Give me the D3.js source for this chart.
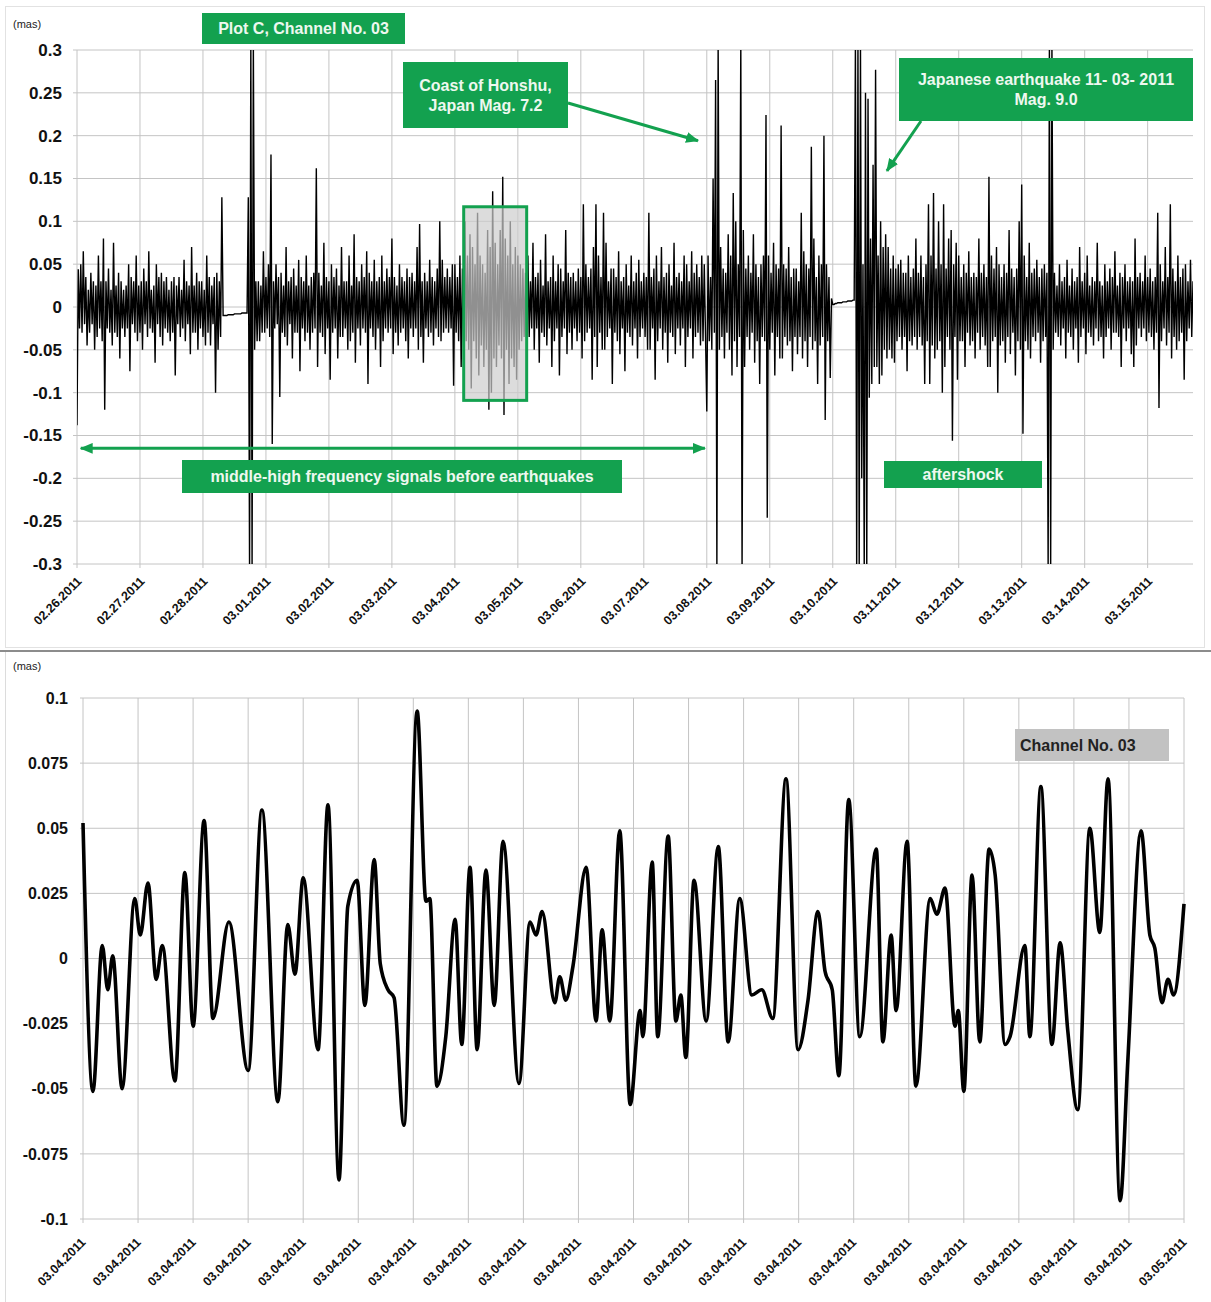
<!DOCTYPE html>
<html>
<head>
<meta charset="utf-8">
<script src="https://cdn.jsdelivr.net/npm/d3@7"></script>
<style>
body { margin: 0; background: #fff; }
svg { display: block; font-family: "Liberation Sans", Arial, sans-serif; }
</style>
</head>
<body>
<svg id="chart" width="1211" height="1302"></svg>
<script>
// 上の図: Plot C, Channel No. 03 (02.26 - 03.15.2011)
const topDates = ["02.26.2011", "02.27.2011", "02.28.2011", "03.01.2011", "03.02.2011", "03.03.2011",
    "03.04.2011", "03.05.2011", "03.06.2011", "03.07.2011", "03.08.2011", "03.09.2011",
    "03.10.2011", "03.11.2011", "03.12.2011", "03.13.2011", "03.14.2011", "03.15.2011"];
const topTicks = [0.3, 0.25, 0.2, 0.15, 0.1, 0.05, 0, -0.05, -0.1, -0.15, -0.2, -0.25, -0.3];
const topTickLabels = ["0.3", "0.25", "0.2", "0.15", "0.1", "0.05", "0", "-0.05", "-0.1", "-0.15", "-0.2", "-0.25", "-0.3"];
// 1サンプル = 0.02日
const topStep = 0.02;
const topValues = [
    // 02.26 - 02.28
    -.138, .044, -.025, .05, -.03, .065, -.02, .035, -.045, .02,
    -.03, .04, -.02, .03, -.05, .025, -.035, .06, -.025, .03,
    -.04, .08, -.12, .03, -.025, .045, -.03, .02, -.045, .075,
    -.03, .025, -.035, .04, -.06, .03, -.025, .02, -.035, .025,
    -.025, .05, -.075, .035, -.02, .03, -.03, .06, -.04, .025,
    -.03, .03, -.05, .045, -.02, .03, -.035, .065, -.025, .02,
    -.03, .025, -.065, .05, -.02, .035, -.035, .04, -.045, .03,
    -.025, .035, -.03, .02, -.04, .03, -.03, .035, -.08, .025,
    -.02, .035, -.035, .02, -.025, .055, -.04, .03, -.02, .025,
    -.055, .07, -.03, .025, -.03, .04, -.05, .03, -.025, .03,
    -.035, .02, -.045, .06, -.03, .035, -.045, .025, -.02, .035,
    -.1, .04, -.05, .03, -.035, .128,
    // 欠測
    -.01, -.01, -.01, -.01, -.009, -.009, -.009, -.009, -.009, -.008,
    -.008, -.008, -.008, -.008, -.008, -.007, -.007, -.007, -.007, -.007,
    .128, -.31, .31, -.31, .31, -.05, .03, -.04,
    // 03.01 - 03.04
    .03, -.04, .025, -.03, .065, -.03, .035, -.025, .05, -.035,
    .178, -.16, .03, -.025, .05, -.02, .035, -.105, .04, -.03,
    .025, -.035, .07, -.045, .03, -.02, .035, -.06, .045, -.03,
    .025, -.03, .055, -.075, .035, -.025, .03, -.04, .06, -.03,
    .025, -.05, .035, -.03, .04, -.025, .162, -.07, .04, -.03,
    .025, -.035, .075, -.055, .035, -.025, .03, -.085, .05, -.03,
    .035, -.025, .045, -.06, .025, -.035, .07, -.035, .03, -.025,
    .03, -.05, .06, -.04, .025, -.03, .085, -.065, .035, -.025,
    .03, -.045, .05, -.025, .035, -.03, .065, -.09, .04, -.025,
    .03, -.035, .055, -.05, .03, -.025, .035, -.07, .06, -.04,
    .03, -.025, .045, -.03, .035, -.025, .08, -.055, .035, -.03,
    .025, -.045, .05, -.03, .035, -.025, .03, -.04, .045, -.06,
    .035, -.025, .04, -.035, .03, -.025, .07, -.05, .097, -.035,
    .03, -.065, .04, -.025, .03, -.035, .055, -.03, .035, -.045,
    .03, -.025, .045, -.035, .1, -.04, .055, -.03, .035, -.025,
    .045, -.03, .035, -.025, .05, -.092, .05, -.03, .035, -.04,
    // 拡大部分 (03.04 - 03.05)
    .06, -.07, .045, -.05, .1, -.04, .06, -.05, .085, -.095,
    .07, -.04, .05, -.06, .11, -.08, .06, -.045, .05, -.07,
    .04, -.05, .09, -.12, .07, -.1, .135, -.06, .075, -.07,
    .05, -.045, .09, -.06, .152, -.126, .08, -.05, .06, -.09,
    .1, -.06, .05, -.07, .07, -.085, .06, -.05, .05, -.04,
    .045, -.035, .04, -.04,
    // 03.05 - 03.08
    .06, -.035, .03, -.025, .075, -.05, .035, -.025, .04, -.065,
    .055, -.03, .025, -.035, .085, -.045, .03, -.025, .035, -.07,
    .06, -.04, .03, -.025, .05, -.08, .045, -.035, .03, -.025,
    .09, -.055, .04, -.03, .035, -.05, .04, -.025, .03, -.04,
    .045, -.03, .035, -.06, .12, -.04, .05, -.03, .035, -.025,
    .045, -.085, .07, -.035, .12, -.07, .06, -.03, .035, -.05,
    .11, -.05, .075, -.035, .03, -.025, .045, -.09, .045, -.03,
    .035, -.04, .065, -.055, .03, -.025, .035, -.075, .05, -.03,
    .025, -.035, .06, -.045, .03, -.025, .04, -.06, .055, -.035,
    .03, -.025, .04, -.035, .035, -.05, .11, -.05, .035, -.025,
    .045, -.085, .06, -.04, .03, -.025, .07, -.05, .035, -.03,
    .04, -.065, .05, -.03, .025, -.035, .075, -.055, .035, -.025,
    .04, -.045, .03, -.025, .06, -.07, .05, -.035, .03, -.025,
    .065, -.06, .04, -.035, .05, -.03, .035, -.045, .06, -.04,
    .05, -.035,
    // 03.08 - 03.10 (Honshu M7.2)
    -.122, .06, -.04, .035, -.05, .15, -.03, .265, -.31, .31,
    -.05, .07, -.035, .045, -.06, .04, -.03, .085, -.05, .06,
    -.08, .133, -.04, .1, -.07, .05, -.035, .31, -.31, .09,
    -.07, .045, -.035, .06, -.05, .04, -.03, .085, -.065, .05,
    -.04, .035, -.09, .05, -.035, .06, -.04, .224, -.246, .06,
    -.05, .04, -.03, .075, -.08, .05, -.035, .045, -.06, .212,
    -.06, .05, -.035, .045, -.045, .07, -.04, .035, -.075, .045,
    -.035, .045, -.055, .03, -.035, .11, -.06, .065, -.04, .05,
    -.07, .045, -.035, .187, -.05, .08, -.04, .035, -.09, .06,
    -.045, .05, -.035, .2, -.132, .05, -.04, .035, -.083, .01,
    // 欠測
    .003, .003, .004, .004, .005, .005, .005, .005, .006, .006,
    .006, .006, .007, .007, .007, .007, .008, .008,
    // 03.11 本震
    .31, -.31, .31, -.31, .31, -.2, .05, -.31, .25, -.31,
    .243, -.106, .08, -.09, .166, -.07,
    // 余震
    .277, -.07, .06, -.09, .1, -.08, .07, -.05, .085, -.06,
    .07, -.05, .045, -.06, .06, -.065, .045, -.04, .05, -.035,
    .055, -.05, .04, -.035, .04, -.075, .06, -.04, .035, -.045,
    .045, -.035, .08, -.05, .04, -.035, .06, -.045, .035, -.09,
    .05, -.04, .12, -.09, .06, -.045, .133, -.06, .045, -.05,
    .1, -.04, .05, -.1, .12, -.07, .045, -.035, .08, -.05,
    .09, -.156, .05, -.035, .075, -.085, .06, -.04, .035, -.04,
    .05, -.07, .04, -.03, .065, -.045, .035, -.04, .04, -.06,
    .035, -.03, .08, -.05, .04, -.035, .05, -.045, .035, -.07,
    .152, -.07, .06, -.04, .045, -.035, .07, -.1, .05, -.045,
    .035, -.04, .05, -.065, .04, -.035, .09, -.055, .045, -.03,
    .035, -.08, .045, -.04, .1, -.05, .143, -.148, .06, -.04,
    .035, -.05, .075, -.06, .04, -.035, .045, -.04, .055, -.03,
    .035, -.065, .045, -.04, .05, -.035, .04, -.31,
    .31, -.31, .31, -.05,
    // 03.13 - 03.15
    .04, -.03, .025, -.035, .05, -.045, .03, -.025, .035, -.06,
    .055, -.03, .025, -.035, .045, -.05, .03, -.025, .035, -.065,
    .07, -.035, .03, -.025, .04, -.055, .06, -.03, .025, -.035,
    .035, -.045, .03, -.025, .075, -.04, .03, -.035, .025, -.06,
    .05, -.035, .03, -.025, .045, -.05, .035, -.03, .065, -.03,
    .025, -.035, .04, -.07, .035, -.025, .05, -.04, .03, -.025,
    .035, -.055, .03, -.07, .08, -.045, .035, -.025, .04, -.035,
    .03, -.025, .06, -.04, .035, -.03, .045, -.035, .03, -.05,
    .035, -.03, .11, -.118, .05, -.04, .03, -.025, .07, -.045,
    .035, -.03, .12, -.06, .045, -.035, .03, -.05, .06, -.04,
    .035, -.03, .045, -.085, .05, -.04, .03, -.025, .055, -.035,
    .03, -.03
];

// 下の図: Channel No. 03 (03.04.2011 拡大)
const bottomDates = ["03.04.2011", "03.04.2011", "03.04.2011", "03.04.2011", "03.04.2011", "03.04.2011", "03.04.2011",
    "03.04.2011", "03.04.2011", "03.04.2011", "03.04.2011", "03.04.2011", "03.04.2011", "03.04.2011",
    "03.04.2011", "03.04.2011", "03.04.2011", "03.04.2011", "03.04.2011", "03.04.2011", "03.05.2011"];
const bottomTicks = [0.1, 0.075, 0.05, 0.025, 0, -0.025, -0.05, -0.075, -0.1];
const bottomTickLabels = ["0.1", "0.075", "0.05", "0.025", "0", "-0.025", "-0.05", "-0.075", "-0.1"];
// 位置は目盛り番号単位
const bottomPos = [
    0.00, 0.18, 0.35, 0.45, 0.54, 0.71, 0.94, 1.04, 1.18, 1.33, 1.44, 1.67, 1.85, 2.00, 2.20, 2.36,
    2.65, 3.00, 3.25, 3.54, 3.72, 3.85, 4.00, 4.27, 4.45, 4.65, 4.81, 4.98, 5.12, 5.29, 5.40, 5.54,
    5.65, 5.83, 6.07, 6.23, 6.30, 6.43, 6.59, 6.76, 6.88, 7.03, 7.16, 7.32, 7.47, 7.63, 7.92, 8.12,
    8.23, 8.34, 8.57, 8.66, 8.77, 8.90, 9.14, 9.32, 9.43, 9.57, 9.75, 9.94, 10.12, 10.17, 10.34, 10.44,
    10.63, 10.77, 10.86, 10.95, 11.10, 11.32, 11.54, 11.72, 11.93, 12.15, 12.33, 12.53, 12.77, 12.99,
    13.17, 13.35, 13.48, 13.61, 13.73, 13.91, 14.11, 14.41, 14.53, 14.68, 14.77, 14.97, 15.13, 15.39,
    15.51, 15.66, 15.84, 15.90, 16.00, 16.15, 16.29, 16.46, 16.57, 16.75, 16.84, 17.11, 17.20, 17.40,
    17.60, 17.75, 17.89, 18.07, 18.29, 18.47, 18.62, 18.84, 18.98, 19.22, 19.38, 19.47, 19.60, 19.71,
    19.81, 20.00
];
const bottomValues = [
    .052, -.051, .005, -.012, .001, -.050, .023, .009, .029, -.008, .005, -.047, .033, -.026, .053, -.023,
    .014, -.043, .057, -.055, .013, -.006, .031, -.035, .059, -.085, .020, .030, -.018, .038, -.002, -.012,
    -.015, -.064, .095, .022, .023, -.049, -.030, .015, -.033, .035, -.035, .034, -.018, .045, -.048, .014,
    .009, .018, -.017, -.007, -.016, -.003, .035, -.024, .011, -.024, .049, -.056, -.020, -.030, .037, -.030,
    .047, -.024, -.014, -.038, .030, -.024, .043, -.032, .023, -.014, -.012, -.023, .069, -.035,
    -.016, .018, -.005, -.012, -.045, .061, -.030, .042, -.032, .009, -.020, .045, -.049, .023,
    .017, .027, -.026, -.020, -.051, .032, -.032, .042, .032, -.033, -.030, .005, -.030, .066,
    -.033, .006, -.028, -.058, .050, .010, .069, -.093, -.039, .049, .009, .004, -.017, -.008,
    -.014, .021
];

const green = "#13a14f";
const gridColor = "#c4c4c4";

function main() {
    const svg = d3.select("#chart");
    svg.append("rect").attr("width", 1211).attr("height", 1302).attr("fill", "#fff");

    // 枠線
    svg.append("rect").attr("x", 5.5).attr("y", 6.5).attr("width", 1199).attr("height", 641)
        .attr("fill", "none").attr("stroke", "#e2e2e2");
    svg.append("line").attr("x1", 0).attr("x2", 1211).attr("y1", 651).attr("y2", 651)
        .attr("stroke", "#8c8c8c").attr("stroke-width", 2);
    svg.append("line").attr("x1", 5.5).attr("x2", 5.5).attr("y1", 652).attr("y2", 1302)
        .attr("stroke", "#dcdcdc");

    // 矢印の先端
    const defs = svg.append("defs");
    defs.append("marker")
        .attr("id", "head")
        .attr("markerUnits", "userSpaceOnUse")
        .attr("viewBox", "0 0 12 10")
        .attr("refX", 11).attr("refY", 5)
        .attr("markerWidth", 13).attr("markerHeight", 11)
        .attr("orient", "auto-start-reverse")
        .append("polygon")
        .attr("points", "0 0, 12 5, 0 10")
        .attr("fill", green);

    drawTop(svg, defs);
    drawBottom(svg);
}

function drawTop(svg, defs) {
    const x = d3.scaleLinear().domain([0, 17.72]).range([77, 1193]);
    const y = d3.scaleLinear().domain([-0.3, 0.3]).range([564, 50]);

    svg.append("text").attr("x", 13).attr("y", 28).attr("font-size", 11).attr("fill", "#222").text("(mas)");

    // グリッド
    const grid = svg.append("g");
    grid.selectAll(".h").data(topTicks).join("line")
        .attr("x1", 73).attr("x2", 1193)
        .attr("y1", d => y(d)).attr("y2", d => y(d))
        .attr("stroke", gridColor);
    grid.selectAll(".v").data(topDates).join("line")
        .attr("x1", (d, i) => x(i)).attr("x2", (d, i) => x(i))
        .attr("y1", 50).attr("y2", 568)
        .attr("stroke", gridColor);

    // 軸
    svg.append("g").attr("transform", "translate(77,0)")
        .call(d3.axisLeft(y).tickValues(topTicks).tickSize(0).tickPadding(15)
            .tickFormat((d, i) => topTickLabels[i]))
        .call(g => g.select(".domain").remove())
        .selectAll("text")
        .attr("font-family", "Liberation Sans, Arial, sans-serif")
        .attr("font-size", 17).attr("font-weight", "bold").attr("fill", "#111");

    svg.append("g").attr("transform", "translate(0,564)")
        .call(d3.axisBottom(x).tickValues(d3.range(topDates.length)).tickSize(0)
            .tickFormat((d, i) => topDates[i]))
        .call(g => g.select(".domain").remove())
        .selectAll("text")
        .attr("x", 0).attr("y", 0).attr("dy", 0)
        .attr("transform", "translate(5,18) rotate(-45)")
        .style("text-anchor", "end")
        .attr("font-family", "Liberation Sans, Arial, sans-serif")
        .attr("font-size", 12.5).attr("font-weight", "bold").attr("fill", "#111");

    // 信号
    defs.append("clipPath").attr("id", "topClip")
        .append("rect").attr("x", 77).attr("y", 50).attr("width", 1116).attr("height", 514);

    const line = d3.line()
        .x((d, i) => x(i * topStep))
        .y(d => y(d));

    svg.append("path")
        .datum(topValues)
        .attr("clip-path", "url(#topClip)")
        .attr("d", line)
        .attr("fill", "none")
        .attr("stroke", "#000")
        .attr("stroke-width", 1.4)
        .attr("stroke-linejoin", "miter");

    // 強調範囲 (下の図の拡大範囲)
    svg.append("rect")
        .attr("x", x(6.14)).attr("y", y(0.117))
        .attr("width", x(7.14) - x(6.14)).attr("height", y(-0.109) - y(0.117))
        .attr("fill", "#cdcdcd").attr("fill-opacity", 0.7)
        .attr("stroke", green).attr("stroke-width", 3);

    // 注釈ボックス
    function box(x0, y0, w, h, lines, lineGap) {
        svg.append("rect").attr("x", x0).attr("y", y0).attr("width", w).attr("height", h).attr("fill", green);
        const cy = y0 + h / 2 - (lines.length - 1) * lineGap / 2;
        lines.forEach((t, i) => {
            svg.append("text")
                .attr("x", x0 + w / 2).attr("y", cy + i * lineGap)
                .attr("dy", "0.36em")
                .attr("text-anchor", "middle")
                .attr("font-size", 16).attr("font-weight", "bold")
                .attr("fill", "#eef8ef")
                .text(t);
        });
    }
    function arrow(x1, y1, x2, y2, both) {
        svg.append("line")
            .attr("x1", x1).attr("y1", y1).attr("x2", x2).attr("y2", y2)
            .attr("stroke", green).attr("stroke-width", 3)
            .attr("marker-end", "url(#head)")
            .attr("marker-start", both ? "url(#head)" : null);
    }

    box(202, 13, 203, 31, ["Plot C, Channel No. 03"], 0);
    box(403, 62, 165, 66, ["Coast of Honshu,", "Japan Mag. 7.2"], 20);
    box(899, 58, 294, 63, ["Japanese earthquake 11- 03- 2011", "Mag. 9.0"], 20);
    box(182, 460, 440, 33, ["middle-high frequency signals before earthquakes"], 0);
    box(884, 461, 158, 27, ["aftershock"], 0);

    arrow(568, 103, x(9.86), y(0.194), false);
    arrow(921, 121, x(12.86), y(0.159), false);
    arrow(x(0.06), y(-0.165), x(9.97), y(-0.165), true);
}

function drawBottom(svg) {
    const x = d3.scaleLinear().domain([0, 20]).range([83, 1184]);
    const y = d3.scaleLinear().domain([-0.1, 0.1]).range([1219, 698]);

    svg.append("text").attr("x", 13).attr("y", 670).attr("font-size", 11).attr("fill", "#222").text("(mas)");

    const grid = svg.append("g");
    grid.selectAll(".h").data(bottomTicks).join("line")
        .attr("x1", 80).attr("x2", 1184)
        .attr("y1", d => y(d)).attr("y2", d => y(d))
        .attr("stroke", gridColor);
    grid.selectAll(".v").data(bottomDates).join("line")
        .attr("x1", (d, i) => x(i)).attr("x2", (d, i) => x(i))
        .attr("y1", 698).attr("y2", 1223)
        .attr("stroke", gridColor);

    svg.append("g").attr("transform", "translate(83,0)")
        .call(d3.axisLeft(y).tickValues(bottomTicks).tickSize(0).tickPadding(15)
            .tickFormat((d, i) => bottomTickLabels[i]))
        .call(g => g.select(".domain").remove())
        .selectAll("text")
        .attr("font-family", "Liberation Sans, Arial, sans-serif")
        .attr("font-size", 16).attr("font-weight", "bold").attr("fill", "#111");

    svg.append("g").attr("transform", "translate(0,1219)")
        .call(d3.axisBottom(x).tickValues(d3.range(bottomDates.length)).tickSize(0)
            .tickFormat((d, i) => bottomDates[i]))
        .call(g => g.select(".domain").remove())
        .selectAll("text")
        .attr("x", 0).attr("y", 0).attr("dy", 0)
        .attr("transform", "translate(3,24) rotate(-45)")
        .style("text-anchor", "end")
        .attr("font-family", "Liberation Sans, Arial, sans-serif")
        .attr("font-size", 12.5).attr("font-weight", "bold").attr("fill", "#111");

    const line = d3.line()
        .x((d, i) => x(bottomPos[i]))
        .y(d => y(d))
        .curve(d3.curveMonotoneX);

    svg.append("path")
        .datum(bottomValues)
        .attr("d", line)
        .attr("fill", "none")
        .attr("stroke", "#000")
        .attr("stroke-width", 3.6)
        .attr("stroke-linejoin", "round");

    // ラベル
    svg.append("rect").attr("x", 1015).attr("y", 729).attr("width", 154).attr("height", 32).attr("fill", "#c2c2c2");
    svg.append("text").attr("x", 1020).attr("y", 745).attr("dy", "0.36em")
        .attr("font-size", 16).attr("font-weight", "bold").attr("fill", "#222")
        .text("Channel No. 03");
}

main();
</script>
</body>
</html>
